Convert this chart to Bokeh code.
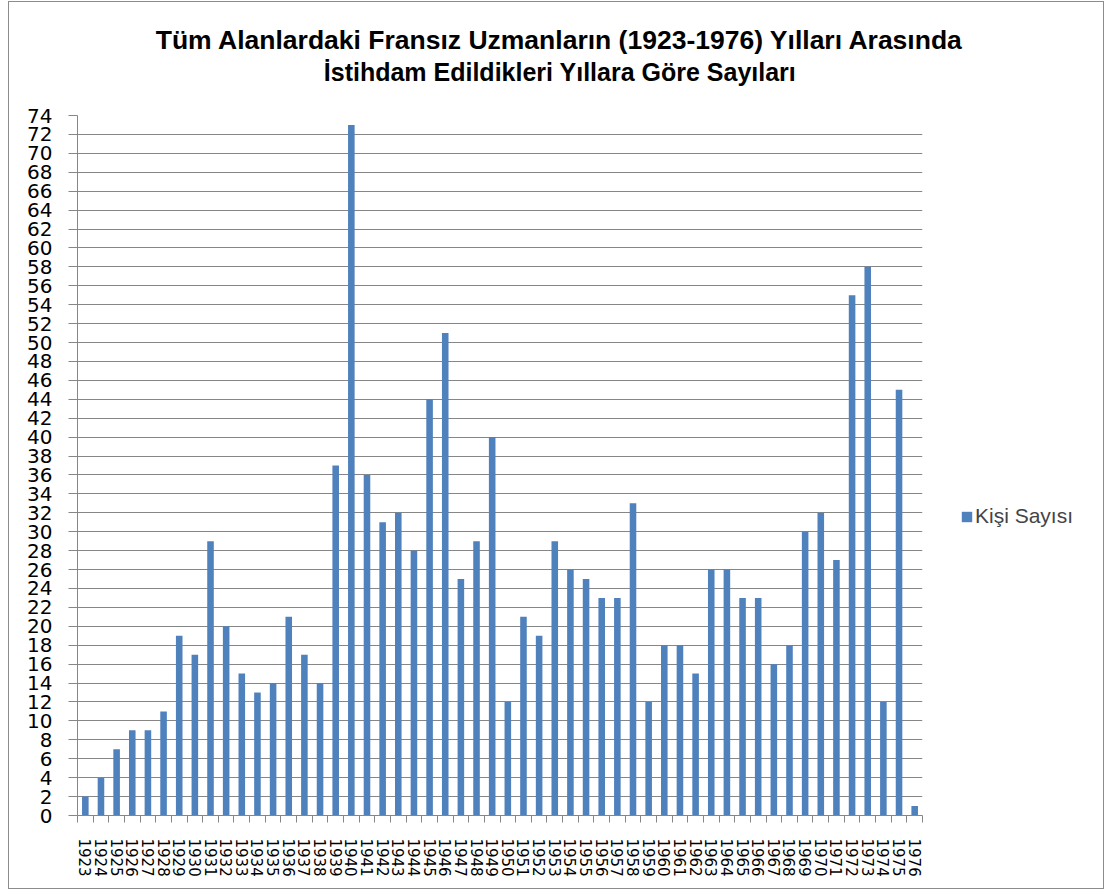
from bokeh.plotting import figure
from bokeh.layouts import column, row
from bokeh.models import Range1d, FixedTicker, Label, Legend, LegendItem
from bokeh.embed import file_html
from bokeh.resources import INLINE

years = [str(y) for y in range(1923, 1977)]
counts = [2, 4, 7, 9, 9, 11, 19, 17, 29, 20, 15, 13, 14, 21, 17, 14, 37, 73, 36, 31,
          32, 28, 44, 51, 25, 29, 40, 12, 21, 19, 29, 26, 25, 23, 23, 33, 12, 18, 18, 15,
          26, 26, 23, 23, 16, 18, 30, 32, 27, 55, 58, 12, 45, 1]
series_name = "Kişi Sayısı"
title_lines = ["Tüm Alanlardaki Fransız Uzmanların (1923-1976) Yılları Arasında",
               "İstihdam Edildikleri Yıllara Göre Sayıları"]
y_ticks = list(range(0, 75, 2))

GRAY = "#868686"
BLUE = "#4F81BD"

n = len(years)
centers = [i + 0.5 for i in range(n)]
bounds = list(range(n + 1))


def blank_fig(w, h):
    f = figure(width=w, height=h, output_backend="svg", toolbar_location=None,
               x_range=Range1d(0, 1), y_range=Range1d(0, 1), min_border=0,
               x_axis_location=None, y_axis_location=None)
    f.outline_line_color = None
    f.grid.visible = False
    f.background_fill_color = "white"
    f.border_fill_color = "white"
    return f


# ---- title ----
tfig = blank_fig(1094, 99)
for t, yb, fs in zip(title_lines, [62, 30], ["26.5px", "25px"]):
    tfig.add_layout(Label(x=550.5, y=yb, x_units="screen", y_units="screen", text=t,
                          text_align="center", text_baseline="alphabetic",
                          text_font="Liberation Sans", text_font_style="bold",
                          text_font_size=fs, text_color="black"))

# ---- main chart ----
p = figure(width=921, height=787, output_backend="svg", toolbar_location=None,
           x_range=Range1d(0, n), y_range=Range1d(0, 74),
           min_border_left=68, min_border_right=8, min_border_top=14, min_border_bottom=73)
p.outline_line_color = None
p.background_fill_color = "white"
p.border_fill_color = "white"

r = p.vbar(x=centers, top=counts, width=0.42, bottom=0, fill_color=BLUE, line_color=None)

xa = p.xaxis[0]
xa.ticker = FixedTicker(ticks=centers, minor_ticks=bounds)
xa.major_label_overrides = {c: y for c, y in zip(centers, years)}
xa.major_label_orientation = "vertical"
xa.major_label_text_font = "DejaVu Sans"
xa.major_label_text_font_size = "15px"
xa.major_label_text_color = "black"
xa.major_label_standoff = 16
xa.major_tick_out = 0
xa.major_tick_in = 0
xa.minor_tick_out = 7
xa.minor_tick_in = 0
xa.minor_tick_line_color = GRAY
xa.axis_line_color = GRAY

ya = p.yaxis[0]
ya.ticker = FixedTicker(ticks=y_ticks)
ya.major_label_text_font = "DejaVu Sans"
ya.major_label_text_font_size = "20px"
ya.major_label_text_color = "black"
ya.major_label_standoff = 16
ya.major_tick_out = 9
ya.major_tick_in = 0
ya.major_tick_line_color = GRAY
ya.minor_tick_line_color = None
ya.axis_line_color = GRAY

p.xgrid.grid_line_color = None
p.ygrid.grid_line_color = GRAY
p.ygrid.grid_line_width = 1

# ---- legend (separate panel, its renderer is hidden; only the legend swatch shows) ----
lfig = blank_fig(173, 787)
lr = lfig.vbar(x=centers, top=counts, width=0.42, fill_color=BLUE, line_color=None,
               visible=False)
legend = Legend(items=[LegendItem(label=series_name, renderers=[lr])],
                location=(30, 287), glyph_width=13, glyph_height=13,
                label_text_font="Liberation Sans", label_text_font_size="21px",
                label_standoff=2, padding=0, margin=0, spacing=0,
                inactive_fill_alpha=0,
                border_line_color=None, background_fill_alpha=0)
lfig.add_layout(legend, "center")

layout = column(tfig, row(p, lfig, spacing=0), spacing=0)
layout.styles = {"outline": "1px solid #8c8c8c", "margin-left": "9px", "margin-top": "2px"}

open("out.html", "w").write(file_html(layout, INLINE))
